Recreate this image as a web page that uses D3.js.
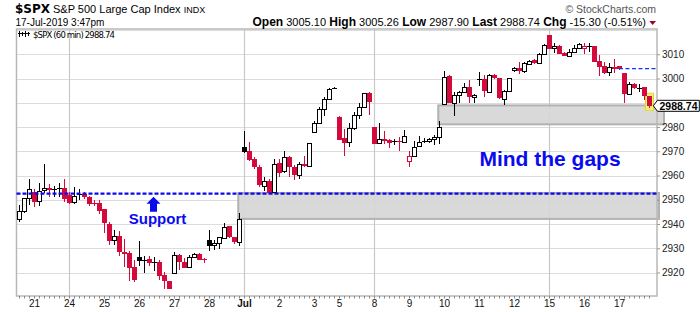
<!DOCTYPE html>
<html><head><meta charset="utf-8">
<script src="https://cdn.jsdelivr.net/npm/d3@7"></script>
<style>body{margin:0;background:#fff;}svg{display:block;}</style>
</head><body>
<script>
// ---------- DATA ----------
const leadBars = 3; // tail of Jun 20 session shown before first label
const dayLabels = ["21","24","25","26","27","28","Jul","2","3","5","8","9","10","11","12","15","16","17"];
const barsPerDay = [7,7,7,7,7,7,7,7,5,7,7,7,7,7,7,7,7,7];
const monthLabels = ["Jul"];
const weekStarts = ["24","Jul","8","15"];
const yTickValues = [2920,2930,2940,2950,2960,2970,2980,2990,3000,3010];

const opens = [
2941.9,2945.1,2950.6,
2953.3,2949.6,2953.8,2954.7,2954.5,2954.8,2954.7,
2952.0,2948.9,2952.2,2952.2,2951.2,2948.8,2948.8,
2946.1,2940.0,2933.1,2934.9,2928.3,2928.2,2922.4,
2926.3,2925.0,2925.4,2924.4,2924.3,2919.0,2916.5,
2919.7,2927.2,2924.5,2922.0,2926.3,2927.6,2925.6,
2933.4,2931.3,2932.0,2934.5,2939.2,2934.5,2932.3,
2971.8,2970.1,2966.7,2963.4,2955.8,2957.9,2953.1,
2965.3,2961.9,2967.5,2963.7,2960.2,2964.8,2963.9,
2978.1,2981.5,2987.3,2991.4,2996.0,
2984.3,2975.6,2973.6,2979.5,2985.0,2988.1,2994.2,
2980.2,2973.3,2974.9,2974.7,2974.1,2974.2,2973.7,
2966.0,2968.1,2971.9,2974.1,2974.0,2974.9,2975.8,
2989.5,3001.2,2990.1,2993.2,2994.3,2996.4,2992.3,
2999.7,2999.7,2994.6,3001.5,3000.1,2991.8,2994.6,
3003.5,3004.2,3002.8,3006.3,3007.7,3006.3,3010.1,
3018.0,3012.9,3013.6,3010.7,3009.4,3010.8,3012.5,
3012.2,3013.6,3013.6,3007.2,3005.2,3002.6,3004.9,
3005.1,3002.2,2993.5,2997.7,2996.2,2996.4,2992.9];
const highs = [
2947.8,2950.9,2958.4,
2954.3,2956.8,2964.8,2956.4,2955.6,2956.8,2958.6,
2953.3,2955.4,2954.4,2953.0,2951.5,2949.9,2949.9,
2946.3,2941.0,2937.5,2937.1,2933.7,2928.9,2925.2,
2933.0,2926.8,2926.8,2926.3,2925.2,2920.3,2916.6,
2928.6,2927.5,2925.8,2927.2,2927.9,2927.9,2925.8,
2937.5,2933.4,2934.8,2940.6,2939.2,2934.8,2944.4,
2978.4,2974.0,2967.5,2964.3,2959.3,2958.4,2966.7,
2966.7,2970.1,2968.1,2964.3,2965.7,2968.1,2973.5,
2982.5,2988.4,2992.3,2996.0,2996.3,
2984.6,2979.1,2981.5,2986.3,2989.8,2994.2,2994.3,
2980.2,2981.5,2978.5,2974.9,2974.9,2975.9,2978.8,
2970.1,2974.2,2976.3,2975.3,2975.3,2976.7,2982.3,
3003.1,3001.5,2994.6,2994.9,2998.0,2999.4,2993.6,
3002.6,3001.5,3001.9,3001.7,3000.1,2995.3,3000.1,
3004.6,3006.7,3007.0,3007.7,3007.9,3010.4,3014.1,
3018.0,3014.8,3013.8,3011.1,3012.1,3013.8,3014.6,
3014.6,3014.8,3013.6,3009.7,3006.7,3006.3,3008.0,
3005.26,3002.2,2998.7,2998.3,2997.7,2996.4,2992.9];
const lows = [
2941.0,2944.4,2947.8,
2947.2,2947.4,2952.7,2951.1,2951.2,2951.2,2949.2,
2948.3,2948.3,2949.9,2950.3,2947.6,2947.4,2944.0,
2936.4,2931.3,2931.3,2926.8,2922.4,2916.6,2916.2,
2922.8,2919.7,2922.7,2920.8,2916.9,2913.1,2913.1,
2919.7,2921.0,2922.0,2921.7,2925.8,2925.0,2923.8,
2929.0,2929.3,2929.7,2934.1,2934.1,2931.8,2930.9,
2969.2,2966.0,2962.6,2955.4,2953.8,2952.7,2952.9,
2959.5,2961.2,2959.3,2958.2,2958.4,2963.7,2963.7,
2978.1,2981.1,2984.6,2991.2,2995.7,
2974.9,2968.1,2971.9,2978.8,2983.2,2987.8,2985.0,
2972.9,2972.9,2973.0,2971.2,2972.6,2970.2,2973.4,
2963.7,2967.8,2971.9,2973.3,2973.3,2972.6,2972.9,
2989.1,2989.8,2984.6,2990.1,2993.9,2990.1,2989.8,
2996.9,2992.5,2993.9,2999.7,2991.4,2989.1,2994.6,
3002.8,3001.7,3002.4,3005.6,3006.0,3006.3,3009.7,
3012.1,3010.7,3010.1,3009.3,3008.7,3010.7,3012.1,
3010.1,3011.1,3007.0,3001.2,3001.9,3001.2,3002.2,
3003.5,2990.1,2993.2,2995.7,2994.3,2991.2,2987.9];
const closes = [
2945.4,2950.6,2954.3,
2949.2,2953.8,2954.7,2954.0,2954.3,2954.5,2950.3,
2948.8,2951.5,2951.7,2950.9,2948.3,2948.2,2945.4,
2940.3,2933.1,2934.9,2928.2,2927.6,2922.2,2916.9,
2924.8,2924.9,2923.8,2924.2,2918.7,2916.5,2913.2,
2927.2,2924.5,2922.1,2926.3,2927.5,2925.2,2925.0,
2931.1,2932.3,2934.5,2938.9,2934.5,2932.3,2941.9,
2969.8,2966.4,2963.4,2955.8,2957.7,2952.9,2964.6,
2961.2,2967.5,2963.4,2960.2,2964.6,2963.9,2973.3,
2981.8,2987.3,2991.4,2995.6,2995.9,
2975.0,2973.6,2979.5,2985.0,2988.1,2993.9,2990.5,
2973.0,2974.9,2974.2,2973.6,2973.8,2973.7,2976.3,
2968.1,2971.9,2973.7,2973.9,2974.9,2975.8,2979.8,
3000.8,2990.1,2993.2,2994.3,2996.4,2992.3,2993.2,
2999.5,2994.6,3001.5,3000.1,2991.8,2994.9,3000.1,
3004.2,3002.8,3006.3,3007.4,3006.3,3010.1,3013.8,
3012.2,3013.6,3010.4,3009.4,3011.1,3012.5,3014.1,
3013.2,3013.3,3007.0,3004.9,3002.2,3004.6,3004.0,
3003.8,2993.5,2997.7,2996.0,2996.1,2992.5,2988.74];

const supportLevel = 2952.5;
const prevClose = 3004.04;
const gapLows = [2942.1, 2981.1];
const gapHighs = [2952.8, 2988.9];
const gapStartBars = [43.85, 83.85];
const gapEndBars = [128.0, 129.0];
const headerLabels = ["Open","High","Low","Last","Chg"];
const headerValues = ["3005.10","3005.26","2987.90","2988.74","-15.30 (-0.51%)"];

// ---------- CHART ----------
const W = 700, H = 312;
const L = 16.5, R = 657, T = 29, B = 296;
const RED = "#d40a3c", BLUE = "#0a0aee";
const nBars = opens.length;

const x = d3.scaleLinear().domain([-0.5, 127.6]).range([L, R]);
const y = d3.scaleLinear().domain([2920, 3010]).range([272.5, 54.25]);

const svg = d3.select("body").append("svg").attr("width", W).attr("height", H)
  .style("font-family", "Arial, 'Liberation Sans', sans-serif");

const dayStart = [];
let acc = leadBars;
barsPerDay.forEach(n => { dayStart.push(acc); acc += n; });

// horizontal gridlines
svg.append("g").selectAll("line").data(yTickValues.concat([3020])).join("line")
  .attr("x1", L).attr("x2", R).attr("y1", d => Math.round(y(d)) + 0.5).attr("y2", d => Math.round(y(d)) + 0.5)
  .attr("stroke", "#dcdcdc").attr("stroke-width", 1);

// week gridlines
svg.append("g").selectAll("line").data(dayLabels.map((d, k) => ({d, i: dayStart[k]})).filter(o => weekStarts.includes(o.d))).join("line")
  .attr("x1", o => x(o.i) + 0.5).attr("x2", o => x(o.i) + 0.5).attr("y1", T).attr("y2", B)
  .attr("stroke", "#c8c8c8").attr("stroke-width", 1.2);

// gap zones
svg.append("g").selectAll("rect").data(gapLows.map((g, k) => k)).join("rect")
  .attr("x", k => x(gapStartBars[k])).attr("width", k => x(gapEndBars[k]) - x(gapStartBars[k]))
  .attr("y", k => y(gapHighs[k])).attr("height", k => y(gapLows[k]) - y(gapHighs[k]))
  .attr("fill", "#d6d6d6").attr("fill-opacity", 0.92)
  .attr("stroke", "#b2b2b2").attr("stroke-width", 2);

// last bar highlight
svg.append("rect").attr("x", x(nBars - 1) - 3.5).attr("width", 8)
  .attr("y", y(highs[nBars - 1]) - 2.5).attr("height", y(lows[nBars - 1]) - y(highs[nBars - 1]) + 5)
  .attr("fill", "#f4f07a").attr("stroke", "#e3d82a").attr("stroke-width", 1);

// plot frame
svg.append("rect").attr("x", L).attr("y", T).attr("width", R - L).attr("height", B - T)
  .attr("fill", "none").attr("stroke", "#b8b8b8").attr("stroke-width", 1.5);

// candles
const bars = d3.range(nBars).map(i => {
  const o = opens[i], c = closes[i], pc = i > 0 ? closes[i - 1] : -Infinity;
  const color = c < pc ? RED : "#000";
  return {i, o, h: highs[i], l: lows[i], c, color, hollow: c > o};
});
const cg = svg.append("g").attr("shape-rendering", "crispEdges");
cg.selectAll("line").data(bars).join("line")
  .attr("x1", d => x(d.i) + 0.5).attr("x2", d => x(d.i) + 0.5)
  .attr("y1", d => y(d.h)).attr("y2", d => y(d.l))
  .attr("stroke", d => d.color).attr("stroke-width", 1);
cg.selectAll("rect").data(bars).join("rect")
  .attr("x", d => d.hollow ? x(d.i) - 1.5 : x(d.i) - 2)
  .attr("width", d => d.hollow ? 4 : 5)
  .attr("y", d => Math.round(y(Math.max(d.o, d.c))) + (d.hollow ? 0.5 : 0))
  .attr("height", d => Math.max(1, Math.round(Math.abs(y(d.o) - y(d.c)))))
  .attr("fill", d => d.hollow ? "#fff" : d.color)
  .attr("stroke", d => d.hollow ? d.color : "none")
  .attr("stroke-width", 1.2);

// support line
svg.append("line").attr("x1", L).attr("x2", R).attr("y1", y(supportLevel)).attr("y2", y(supportLevel))
  .attr("stroke", BLUE).attr("stroke-width", 2.2).attr("stroke-dasharray", "4,2");
// previous close line
svg.append("line").attr("x1", x(dayStart[dayStart.length - 1])).attr("x2", R)
  .attr("y1", y(prevClose)).attr("y2", y(prevClose))
  .attr("stroke", "#1530ff").attr("stroke-width", 1.2).attr("stroke-dasharray", "4,2.5");

// support arrow & text
const ax = x(26.9), ay = y(supportLevel) + 3;
svg.append("path")
  .attr("d", `M${ax},${ay} L${ax + 7},${ay + 7} L${ax + 3.5},${ay + 7} L${ax + 3.5},${ay + 15} L${ax - 3.5},${ay + 15} L${ax - 3.5},${ay + 7} L${ax - 7},${ay + 7} Z`)
  .attr("fill", BLUE);
svg.append("text").attr("x", x(27.7)).attr("y", 224).attr("text-anchor", "middle")
  .attr("font-size", 15).attr("font-weight", "bold").attr("fill", BLUE).text("Support");
svg.append("text").attr("x", 550).attr("y", 166).attr("text-anchor", "middle")
  .attr("font-size", 21).attr("font-weight", "bold").attr("fill", BLUE).text("Mind the gaps");

// x-axis ticks and labels
svg.append("g").selectAll("line").data(d3.range(nBars)).join("line")
  .attr("x1", i => x(i) + 0.5).attr("x2", i => x(i) + 0.5).attr("y1", B).attr("y2", B + 2.5)
  .attr("stroke", "#888").attr("stroke-width", 1);
svg.append("g").selectAll("text").data(dayLabels.map((d, k) => ({d, i: dayStart[k]}))).join("text")
  .attr("x", o => x(o.i) + 0.5).attr("y", 307).attr("text-anchor", "middle")
  .attr("font-size", 10).attr("fill", "#111")
  .attr("font-weight", o => monthLabels.includes(o.d) ? "bold" : "normal")
  .text(o => o.d);

const lastClose = closes[nBars - 1];
const py = y(lastClose);

// y-axis (label under the last-price marker is hidden, as in the original)
const yAxis = d3.axisRight(y).tickValues(yTickValues).tickSize(3).tickPadding(2)
  .tickFormat(d => Math.abs(y(d) - py) < 8 ? "" : d3.format("d")(d));
const yg = svg.append("g").attr("transform", `translate(${R},0)`).call(yAxis);
yg.select(".domain").remove();
yg.selectAll("line").attr("stroke", "#999");
yg.selectAll("text").attr("font-size", 10).attr("fill", "#222").attr("font-family", "Arial, 'Liberation Sans', sans-serif");

svg.append("path")
  .attr("d", `M653.3,${py} L657.5,${py - 5.5} L699.3,${py - 5.5} L699.3,${py + 5.5} L657.5,${py + 5.5} Z`)
  .attr("fill", "#fff").attr("stroke", "#000").attr("stroke-width", 1);
svg.append("text").attr("x", 678.5).attr("y", py + 4).attr("text-anchor", "middle")
  .attr("font-size", 10.5).attr("font-weight", "bold").attr("fill", "#000").text(d3.format(".2f")(lastClose));

// header
svg.append("text").attr("x", 15).attr("y", 12.5).attr("font-family", "'DejaVu Sans', sans-serif")
  .attr("font-size", 12).attr("font-weight", "bold").text("$SPX");
const t2 = svg.append("text").attr("x", 53).attr("y", 12.5).attr("font-size", 11);
t2.append("tspan").text("S&P 500 Large Cap Index ");
t2.append("tspan").attr("font-size", 9).text("INDX");
svg.append("text").attr("x", 15.5).attr("y", 26).attr("font-size", 10).text("17-Jul-2019 3:47pm");
svg.append("text").attr("x", 656).attr("y", 12.5).attr("text-anchor", "end")
  .attr("font-size", 10.5).attr("fill", "#555").text("\u00A9 StockCharts.com");
const hr = svg.append("text").attr("x", 646).attr("y", 26).attr("text-anchor", "end").attr("fill", "#000");
headerLabels.forEach((lab, k) => {
  hr.append("tspan").attr("font-size", 12).attr("font-weight", "bold").text((k ? " " : "") + lab);
  hr.append("tspan").attr("font-size", 11).text(" " + headerValues[k]);
});
svg.append("path").attr("d", "M649.3,21 L656,21 L652.65,25 Z").attr("fill", "#a0002a");

// legend
const lg = svg.append("g").attr("stroke", "#000").attr("stroke-width", 1).attr("shape-rendering", "crispEdges");
[[19.5,31,37],[22.5,32,36],[25.5,31,37],[28.5,32,36]].forEach(([lx, a, b]) => {
  lg.append("line").attr("x1", lx).attr("x2", lx).attr("y1", a).attr("y2", b);
});
lg.append("line").attr("x1", 18).attr("x2", 30).attr("y1", 33.5).attr("y2", 33.5);
svg.append("text").attr("x", 33).attr("y", 37.5).attr("font-family", "'DejaVu Sans', sans-serif")
  .attr("font-size", 8.5).attr("fill", "#000")
  .attr("textLength", 82).attr("lengthAdjust", "spacing")
  .text("$SPX (60 min) " + d3.format(".2f")(lastClose));
</script>
</body></html>
